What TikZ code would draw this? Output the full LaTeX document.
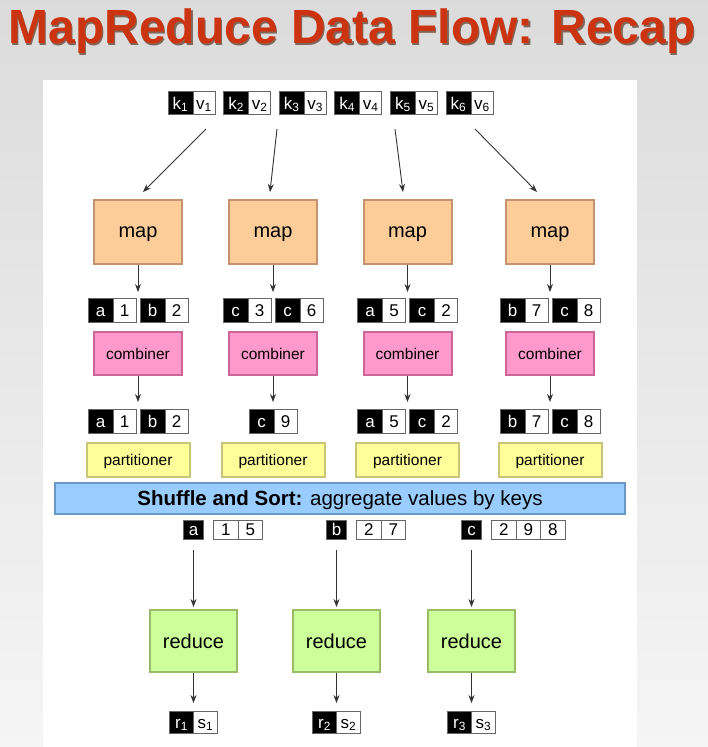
\documentclass[tikz,border=0pt]{standalone}
\usepackage{fontspec}
\setmainfont{Liberation Sans}
\usepackage{xcolor}
\usepackage{tikz}
\usetikzlibrary{positioning, arrows.meta}
\definecolor{titlered}{HTML}{CC3311}
\definecolor{titleshade}{HTML}{6B4A3A}
\definecolor{mapfill}{HTML}{FCCC99}
\definecolor{mapedge}{HTML}{C49470}
\definecolor{combfill}{HTML}{FF99CC}
\definecolor{combedge}{HTML}{CC6699}
\definecolor{partfill}{HTML}{FFFF99}
\definecolor{partedge}{HTML}{C8C478}
\definecolor{shuffill}{HTML}{99CCFF}
\definecolor{shufedge}{HTML}{6A98C8}
\definecolor{redfill}{HTML}{CCFF99}
\definecolor{rededge}{HTML}{99BB6A}
\tikzstyle{arrow} = [-{Stealth[length=8pt,width=6pt]},draw=black!80,line width=0.9pt]
\tikzstyle{stage} = [line width=2pt, inner sep=0pt, text depth=0pt]
\tikzstyle{mapbox} = [stage, fill=mapfill, draw=mapedge, minimum width=88pt, minimum height=64pt, font=\fontsize{20}{24}\selectfont]
\tikzstyle{combbox} = [stage, fill=combfill, draw=combedge, minimum width=88pt, minimum height=43pt, font=\fontsize{15.5}{18}\selectfont]
\tikzstyle{partbox} = [stage, fill=partfill, draw=partedge, minimum width=103pt, minimum height=34pt, font=\fontsize{15.5}{18}\selectfont]
\tikzstyle{shufbox} = [stage, fill=shuffill, draw=shufedge, minimum width=570pt, minimum height=31pt, font=\fontsize{20.5}{24}\selectfont]
\tikzstyle{redbox} = [stage, fill=redfill, draw=rededge, minimum width=87pt, minimum height=62pt, font=\fontsize{20}{24}\selectfont]
\tikzstyle{cell} = [draw=black!60, line width=1pt, inner sep=0pt, outer sep=0pt, minimum height=24pt, text height=12pt, text depth=0pt, font=\fontsize{17}{17}\selectfont]
\tikzstyle{keycell} = [cell, fill=black, text=white, minimum width=25pt]
\tikzstyle{valcell} = [cell, fill=white, text=black, minimum width=23pt]

\begin{document}
\begin{tikzpicture}[x=1pt,y=-1pt]
	\useasboundingbox (0,0) rectangle (708,747);
	
	% Slide background and white panel:
	\shade[top color=black!14, bottom color=black!4] (0,0) rectangle (708,747);
	\fill[white] (43,80) rectangle (637,747);
	
	% Title, with its dark shadow behind:
	\node[anchor=base, font=\fontsize{48}{48}\selectfont\bfseries, text=titleshade, opacity=0.8] (titleshadow) at (353.5,45) {MapReduce Data Flow: Recap};
	\node[anchor=base, font=\fontsize{48}{48}\selectfont\bfseries, text=titlered] (title) at (352,43) {MapReduce Data Flow: Recap};
	
	% Input pairs:
	\foreach \i in {1,...,6}
	{
		\node[keycell, anchor=west, minimum height=23pt] (k\i) at ({168+55.6*(\i-1)},103) {k\textsubscript{\i}};
		\node[valcell, right=0pt of k\i, minimum width=22pt, minimum height=23pt] (v\i) {v\textsubscript{\i}};
	}
	
	% Mapper columns:
	\foreach \c/\x in {1/138, 2/273, 3/407.5, 4/550}
	{
		\node[mapbox] (map\c) at (\x,232) {map};
		\node[combbox] (comb\c) at (\x,353.5) {combiner};
		\node[partbox] (part\c) at (\x,460) {partitioner};
	}
	
	% Map inputs:
	\coordinate (src1) at (206,129);
	\coordinate (src2) at (277,129);
	\coordinate (src3) at (395,129);
	\coordinate (src4) at (475,129);
	\draw[arrow] (src1) -- ([xshift=5pt,yshift=7pt]map1.north);
	\draw[arrow] (src2) -- ([xshift=-3pt,yshift=7pt]map2.north);
	\draw[arrow] (src3) -- ([xshift=-4.5pt,yshift=7pt]map3.north);
	\draw[arrow] (src4) -- ([xshift=-13pt,yshift=7pt]map4.north);
	
	% Map outputs:
	\foreach \c/\x/\ka/\va/\kb/\vb in {1/138/a/1/b/2, 2/273/c/3/c/6, 3/407.5/a/5/c/2, 4/550/b/7/c/8}
	{
		\node[keycell, anchor=west] (ka\c) at (\x-50,310) {\ka};
		\node[valcell, right=0pt of ka\c] (va\c) {\va};
		\node[keycell, anchor=west] (kb\c) at (\x+2,310) {\kb};
		\node[valcell, right=0pt of kb\c] (vb\c) {\vb};
		\draw[arrow, shorten >=6pt] (map\c.south) -- (map\c.south |- ka\c.north);
	}
	
	% Combiner outputs:
	\foreach \c/\x/\ka/\va/\kb/\vb in {1/138/a/1/b/2, 3/407.5/a/5/c/2, 4/550/b/7/c/8}
	{
		\node[keycell, anchor=west] (pa\c) at (\x-50,421) {\ka};
		\node[valcell, right=0pt of pa\c] (pva\c) {\va};
		\node[keycell, anchor=west] (pb\c) at (\x+2,421) {\kb};
		\node[valcell, right=0pt of pb\c] (pvb\c) {\vb};
	}
	\node[keycell, anchor=west] (pa2) at (273-24,421) {c};
	\node[valcell, right=0pt of pa2] (pva2) {9};
	\foreach \c in {1,...,4}
	{
		\draw[arrow, shorten >=7pt] (comb\c.south) -- (comb\c.south |- pa\c.north);
	}
	
	% Shuffle and sort:
	\node[shufbox] (shuffle) at (340,498.5) {\textbf{Shuffle and Sort:} aggregate values by keys};
	
	% Grouped values:
	\foreach \r/\x/\k in {1/193.5/a, 2/336.5/b, 3/471.5/c}
	{
		\node[keycell, minimum width=20pt, minimum height=19pt] (skey\r) at (\x,529.5) {\k};
	}
	\tikzstyle{listcell} = [valcell, minimum width=24.5pt, minimum height=19pt]
	\node[listcell, right=10pt of skey1] (sa1) {1};
	\node[listcell, right=0pt of sa1] (sa2) {5};
	\node[listcell, right=10pt of skey2] (sb1) {2};
	\node[listcell, right=0pt of sb1] (sb2) {7};
	\node[listcell, right=10pt of skey3] (sc1) {2};
	\node[listcell, right=0pt of sc1] (sc2) {9};
	\node[listcell, right=0pt of sc2] (sc3) {8};
	
	% Reducers and their outputs:
	\foreach \r/\x in {1/193.5, 2/336.5, 3/471.5}
	{
		\node[redbox] (reduce\r) at (\x,641) {reduce};
		\node[keycell, anchor=east, minimum width=24pt, minimum height=22pt] (r\r) at (\x,722) {r\textsubscript{\r}};
		\node[valcell, right=0pt of r\r, minimum width=24pt, minimum height=22pt] (s\r) {s\textsubscript{\r}};
		\draw[arrow, shorten <=11pt, shorten >=2pt] (reduce\r.north |- skey\r.south) -- (reduce\r.north);
		\draw[arrow, shorten >=8pt] (reduce\r.south) -- (reduce\r.south |- r\r.north);
	}
	
\end{tikzpicture}
\end{document}
